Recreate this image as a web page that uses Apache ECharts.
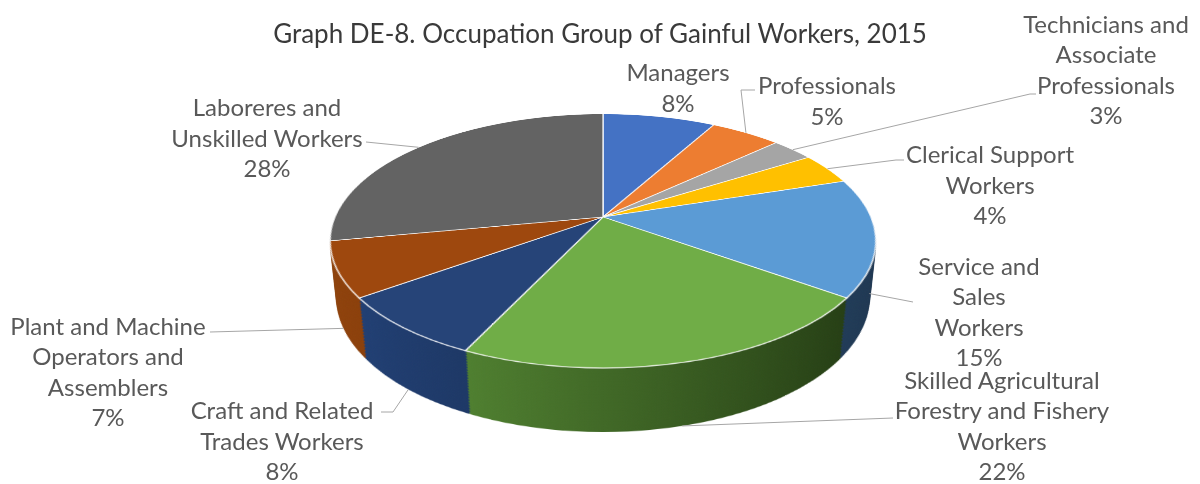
<!DOCTYPE html>
<html>
<head>
<meta charset="utf-8">
<script src="https://cdn.jsdelivr.net/npm/echarts@6/dist/echarts.min.js"></script>
<style>
  body { margin: 0; background: #fff; }
  #wrap { position: relative; width: 1200px; height: 484px; overflow: hidden; }
  .layer { position: absolute; width: 700px; height: 700px; }
  #labels { position: absolute; left: 0; top: 0; width: 1200px; height: 484px; }
</style>
</head>
<body>
<div id="wrap"></div>
<script>
// data
var categories = [
    'Managers',
    'Professionals',
    'Technicians and\nAssociate\nProfessionals',
    'Clerical Support\nWorkers',
    'Service and\nSales\nWorkers',
    'Skilled Agricultural\nForestry and Fishery\nWorkers',
    'Craft and Related\nTrades Workers',
    'Plant and Machine\nOperators and\nAssemblers',
    'Laboreres and\nUnskilled Workers'
];
var shares = [8, 5, 3, 4, 15, 22, 8, 7, 28];

var topColors = ['#4472C4', '#ED7D31', '#A5A5A5', '#FFC000', '#5B9BD5', '#70AD47', '#264478', '#9E480E', '#636363'];
var sideColors = [
    ['#2f5597', '#24427a'], ['#c55a11', '#9c470d'], ['#7f7f7f', '#666666'],
    ['#c99700', '#a07800'], ['#2e5377', '#1e3650'], ['#4f7f30', '#263f15'],
    ['#213f73', '#1a3158'], ['#8f420c', '#7a3708'], ['#4a4a4a', '#3a3a3a']
];

// 3d view of the pie (css perspective)
var P = 1262, TILT = 62.8, R = 268, DEPTH = 64, STEPS = 40;
var APEX = [603, 217];
var wrap = document.getElementById('wrap');

function addLayer(z, data, border) {
    var d = document.createElement('div');
    d.className = 'layer';
    d.style.left = (APEX[0] - 350) + 'px';
    d.style.top = (APEX[1] - 350) + 'px';
    d.style.transform = 'perspective(' + P + 'px) rotateX(' + TILT + 'deg) translateZ(' + (-z) + 'px)';
    wrap.appendChild(d);
    var c = echarts.init(d, null, { renderer: 'svg' });
    c.setOption({
        animation: false,
        series: [{
            type: 'pie', silent: true, radius: R, center: ['50%', '50%'],
            startAngle: 90, clockwise: true,
            label: { show: false }, labelLine: { show: false },
            itemStyle: border ? { borderColor: 'rgba(255,255,255,0.85)', borderWidth: 1.5 } : { borderWidth: 0 },
            data: data
        }]
    });
}

var sideData = shares.map(function (v, i) {
    return {
        value: v, name: categories[i],
        itemStyle: {
            color: new echarts.graphic.LinearGradient(0, 0, 1, 0, [
                { offset: 0, color: sideColors[i][0] },
                { offset: 1, color: sideColors[i][1] }
            ])
        }
    };
});
var topData = shares.map(function (v, i) {
    return { value: v, name: categories[i], itemStyle: { color: topColors[i] } };
});

for (var k = STEPS; k >= 1; k--) {
    addLayer(DEPTH * k / STEPS, sideData, false);
}
addLayer(0, topData, true);

// rim point of a slice (mid angle), projected like the css view
var total = shares.reduce(function (a, b) { return a + b; }, 0);
function rimPoint(i, drop) {
    var cum = 0;
    for (var j = 0; j < i; j++) cum += shares[j];
    var t = 2 * Math.PI * (cum + shares[i] / 2) / total;
    var x = R * Math.sin(t), y = -R * Math.cos(t), z = -drop * DEPTH;
    var a = TILT * Math.PI / 180;
    var Y = y * Math.cos(a) - z * Math.sin(a);
    var Z = y * Math.sin(a) + z * Math.cos(a);
    var s = P / (P - Z);
    return [APEX[0] + x * s, APEX[1] + Y * s];
}

var labelSpots = [
    { x: 678, y: 87 },
    { x: 827, y: 100, elbow: [741, 90], end: [755, 90], drop: 0 },
    { x: 1106, y: 69, elbow: [1030, 94], end: [1036, 94], drop: 0 },
    { x: 990, y: 184, elbow: [896, 160], end: [904, 160], drop: 0 },
    { x: 979, y: 311, end: [913, 302], drop: 1 },
    { x: 1002, y: 425, end: [893, 418], drop: 1 },
    { x: 282, y: 440, elbow: [393, 412], end: [381, 412], drop: 1 },
    { x: 108, y: 371, end: [210, 332], drop: 1 },
    { x: 267, y: 137, end: [366, 142], drop: 0 }
];

var lab = document.createElement('div');
lab.id = 'labels';
wrap.appendChild(lab);
var labelChart = echarts.init(lab, null, { renderer: 'svg' });
labelChart.setOption({
    animation: false,
    title: {
        text: 'Graph DE-8. Occupation Group of Gainful Workers, 2015',
        left: 'center', top: 15,
        textStyle: { fontFamily: 'Lato', fontSize: 26, fontWeight: 'normal', color: '#3a3a3a' }
    },
    series: [{
        type: 'pie', silent: true, radius: R, center: [APEX[0], 241],
        startAngle: 90, avoidLabelOverlap: false,
        itemStyle: { color: 'rgba(0,0,0,0)' },
        label: {
            show: true, fontFamily: 'Lato', fontSize: 24, lineHeight: 30.5, color: '#595959',
            formatter: function (p) { return p.name + '\n' + Math.round(p.percent) + '%'; }
        },
        labelLine: { show: true, lineStyle: { color: '#a6a6a6', width: 1 } },
        labelLayout: function (p) {
            var L = labelSpots[p.dataIndex];
            var out = { x: L.x, y: L.y, align: 'center', verticalAlign: 'middle' };
            if (L.end) {
                out.labelLinePoints = [rimPoint(p.dataIndex, L.drop), L.elbow || L.end, L.end];
            }
            return out;
        },
        data: shares.map(function (v, i) {
            return { value: v, name: categories[i], labelLine: { show: i !== 0 } };
        })
    }]
});
</script>
</body>
</html>
